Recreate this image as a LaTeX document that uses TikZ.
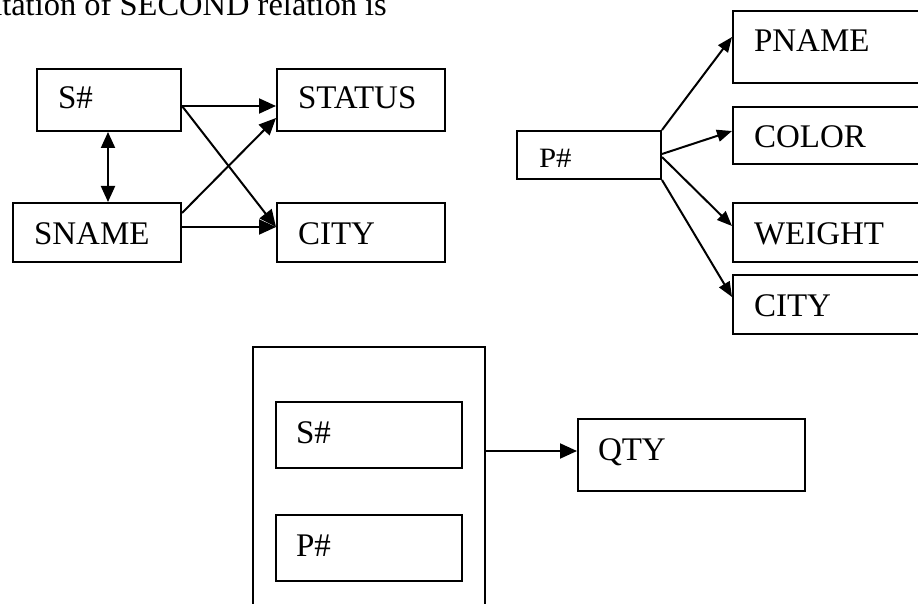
\documentclass[tikz,border=0pt]{standalone}
\usepackage{fontspec}
\setmainfont{Liberation Serif}
\usetikzlibrary{arrows.meta}
\tikzset{
  attr/.style n args={4}{draw, line width=2pt, anchor=north west, align=left,
    inner ysep=0pt, text width=#1pt, inner xsep=#2pt, text height=#3pt, text depth=#4pt,
    font=\fontsize{33}{38}\selectfont},
  arr/.style={line width=2pt, -{Triangle[length=17pt,width=15pt]}},
  parr/.style={line width=2pt, -{Triangle[length=15pt,width=12pt]}},
  darr/.style={line width=2pt, {Triangle[length=16pt,width=14pt]}-{Triangle[length=16pt,width=14pt]}},
}
\begin{document}
\begin{tikzpicture}[x=1pt,y=-1pt]
\useasboundingbox (0,0) rectangle (918,604);
% title (clipped)
\node[anchor=base east, inner sep=0pt, font=\fontsize{32.5}{38}\selectfont] (title) at (387,16) {ntation of SECOND relation is};
% left group
\node[attr={102}{21}{40}{22}] (s1) at (36,68) {S\#};
\node[attr={126}{21}{40}{22}] (status) at (276,68) {STATUS};
\node[attr={126}{21}{41}{18}] (sname) at (12,202) {SNAME};
\node[attr={126}{21}{41}{18}] (cityl) at (276,202) {CITY};
% right group
\node[attr={100}{22}{37}{11}] (p1) at (516,130) {\fontsize{28}{30}\selectfont\scalebox{1.1}[1]{P\#}};
\node[attr={166}{21}{41}{31}] (pname) at (732,10) {PNAME};
\node[attr={166}{21}{41}{16}] (color) at (732,106) {COLOR};
\node[attr={166}{21}{41}{18}] (weight) at (732,202) {WEIGHT};
\node[attr={166}{21}{41}{18}] (cityr) at (732,274) {CITY};
% bottom group
\node[draw, line width=2pt, anchor=north west, inner sep=0pt, minimum width=232pt, minimum height=300pt] (key) at (252,346) {};
\node[attr={146}{20}{41}{25}] (s2) at (275,401) {S\#};
\node[attr={146}{20}{41}{25}] (p2) at (275,514) {P\#};
\node[attr={187}{20}{41}{31}] (qty) at (577,418) {QTY};
% connectors
\draw[darr] (s1.south -| 108,0) -- (sname.north -| 108,0);
\draw[arr] (s1.east |- 0,106) -- (status.west |- 0,106);
\draw[arr] (s1.east |- 0,106) -- (cityl.west |- 0,227);
\draw[arr] (sname.east |- 0,213) -- (status.west |- 0,118);
\draw[arr] (sname.east |- 0,227) -- (cityl.west |- 0,227);
\draw[parr] (p1.north east) -- (pname.west |- 0,37);
\draw[parr] (p1.east |- 0,154) -- (color.west |- 0,131);
\draw[parr] (p1.east |- 0,157) -- (weight.west |- 0,226);
\draw[parr] (p1.south east) -- (cityr.west |- 0,297);
\draw[arr] (key.east |- 0,451) -- (qty.west |- 0,451);
\end{tikzpicture}
\end{document}
